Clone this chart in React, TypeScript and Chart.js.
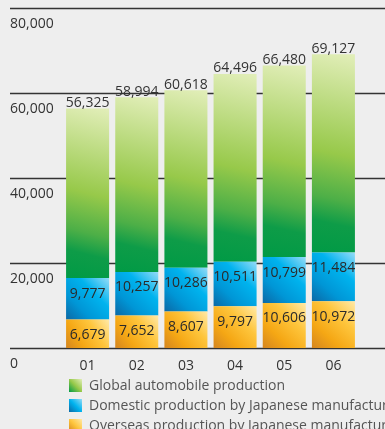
import { useEffect, useRef } from "react";
import { Chart, registerables } from "chart.js";

Chart.register(...registerables);

const years = ["01", "02", "03", "04", "05", "06"];
const globalProduction = [56325, 58994, 60618, 64496, 66480, 69127];
const domesticProduction = [9777, 10257, 10286, 10511, 10799, 11484];
const overseasProduction = [6679, 7652, 8607, 9797, 10606, 10972];
const yTicks = [0, 20000, 40000, 60000, 80000];
const globalLabel = "Global automobile production";
const domesticLabel = "Domestic production by Japanese manufacturers";
const overseasLabel = "Overseas production by Japanese manufacturers";

const greenStops: [number, string][] = [
  [0, "#e2eeb9"],
  [0.5, "#97c94a"],
  [0.72, "#4daf47"],
  [0.84, "#0e9c48"],
  [1, "#009a45"],
];
const blueStops: [number, string][] = [
  [0, "#94dbf7"],
  [0.35, "#00b3ee"],
  [0.7, "#0096d6"],
  [1, "#0b69a6"],
];
const orangeStops: [number, string][] = [
  [0, "#ffe9a6"],
  [0.35, "#fec53c"],
  [0.7, "#f5a714"],
  [1, "#d5861f"],
];

const FONT = "'Open Sans', 'DejaVu Sans', sans-serif";
const fmt = (v: number) => v.toLocaleString("en-US");

function makeGradient(
  ctx: CanvasRenderingContext2D,
  x0: number,
  y0: number,
  x1: number,
  y1: number,
  stops: [number, string][]
) {
  const g = ctx.createLinearGradient(x0, y0, x1, y1);
  stops.forEach(([o, c]) => g.addColorStop(o, c));
  return g;
}

function segmentFill(stops: [number, string][], datasetIndex: number) {
  return (c: any) => {
    const chart = c.chart;
    const xs = chart.scales?.x;
    const ys = chart.scales?.y;
    if (!xs || !ys || !chart.chartArea || c.dataIndex === undefined) return stops[1][1];
    const i = c.dataIndex;
    let base = 0;
    for (let d = 0; d < datasetIndex; d++) base += chart.data.datasets[d].data[i] as number;
    const top = base + (chart.data.datasets[datasetIndex].data[i] as number);
    const cx = xs.getPixelForValue(i);
    const yTop = ys.getPixelForValue(top);
    const yBot = ys.getPixelForValue(base);
    return makeGradient(chart.ctx, cx + 21, yTop, cx - 21, yBot, stops);
  };
}

const decor = {
  id: "decor",
  beforeDatasetsDraw(chart: any) {
    const { ctx } = chart;
    const x = chart.scales.x;
    const y = chart.scales.y;
    ctx.save();
    ctx.strokeStyle = "#333333";
    ctx.lineWidth = 1.3;
    ctx.fillStyle = "#333333";
    ctx.font = `14px ${FONT}`;
    ctx.textAlign = "left";
    ctx.textBaseline = "alphabetic";
    yTicks.forEach((v) => {
      const py = Math.round(y.getPixelForValue(v)) + 0.5;
      ctx.beginPath();
      ctx.moveTo(10, py);
      ctx.lineTo(385, py);
      ctx.stroke();
      ctx.fillText(fmt(v), 10, py + 19);
    });
    ctx.textAlign = "center";
    years.forEach((lab, i) => {
      ctx.fillText(lab, x.getPixelForValue(i), y.getPixelForValue(0) + 22);
    });
    ctx.restore();
  },
  afterDatasetsDraw(chart: any) {
    const { ctx } = chart;
    const x = chart.scales.x;
    const y = chart.scales.y;
    ctx.save();
    ctx.font = `14px ${FONT}`;
    ctx.textAlign = "center";
    ctx.textBaseline = "alphabetic";
    years.forEach((_, i) => {
      const cx = x.getPixelForValue(i);
      ctx.fillStyle = "#333333";
      ctx.fillText(fmt(globalProduction[i]), cx, y.getPixelForValue(globalProduction[i]) - 1.5);
      ctx.fillStyle = "#2a2a2a";
      const domTop = y.getPixelForValue(overseasProduction[i] + domesticProduction[i]);
      ctx.fillText(fmt(domesticProduction[i]), cx, domTop + 19.5);
      const ovTop = y.getPixelForValue(overseasProduction[i]);
      ctx.fillText(fmt(overseasProduction[i]), cx, ovTop + 19.5);
    });
    // legend
    const items: [string, [number, string][]][] = [
      [globalLabel, greenStops],
      [domesticLabel, blueStops],
      [overseasLabel, orangeStops],
    ];
    ctx.textAlign = "left";
    ctx.font = `14px ${FONT}`;
    items.forEach(([label, stops], k) => {
      const top = 379 + k * 20;
      ctx.fillStyle = makeGradient(ctx, 82, top, 69, top + 13, [
        [0, stops[0][1]],
        [0.5, stops[1][1]],
        [1, stops[stops.length - 1][1]],
      ]);
      ctx.fillRect(69, top, 13, 13);
      ctx.fillStyle = "#555555";
      ctx.fillText(label, 89, top + 11);
    });
    ctx.restore();
  },
};

export default function App() {
  const ref = useRef<HTMLCanvasElement | null>(null);
  useEffect(() => {
    if (!ref.current) return;
    const remainder = globalProduction.map(
      (g, i) => g - domesticProduction[i] - overseasProduction[i]
    );
    const chart = new Chart(ref.current, {
      type: "bar",
      data: {
        labels: years,
        datasets: [
          {
            label: overseasLabel,
            data: overseasProduction,
            backgroundColor: segmentFill(orangeStops, 0),
            borderWidth: 0,
          },
          {
            label: domesticLabel,
            data: domesticProduction,
            backgroundColor: segmentFill(blueStops, 1),
            borderWidth: 0,
          },
          {
            label: globalLabel,
            data: remainder,
            backgroundColor: segmentFill(greenStops, 2),
            borderWidth: 0,
          },
        ],
      },
      options: {
        animation: false,
        responsive: false,
        devicePixelRatio: 1,
        layout: { padding: { left: 63, right: 27, top: 8, bottom: 81 } },
        datasets: { bar: { categoryPercentage: 1, barPercentage: 0.875 } },
        scales: {
          x: { stacked: true, display: false },
          y: { stacked: true, display: false, min: 0, max: 80000 },
        },
        plugins: { legend: { display: false }, tooltip: { enabled: false } },
      },
      plugins: [decor],
    });
    return () => chart.destroy();
  }, []);
  return (
    <div
      style={{
        position: "fixed",
        left: 0,
        top: 0,
        width: 385,
        height: 429,
        background: "#eeeeee",
        overflow: "hidden",
      }}
    >
      <canvas ref={ref} width={385} height={429} style={{ width: 385, height: 429, display: "block" }} />
    </div>
  );
}
